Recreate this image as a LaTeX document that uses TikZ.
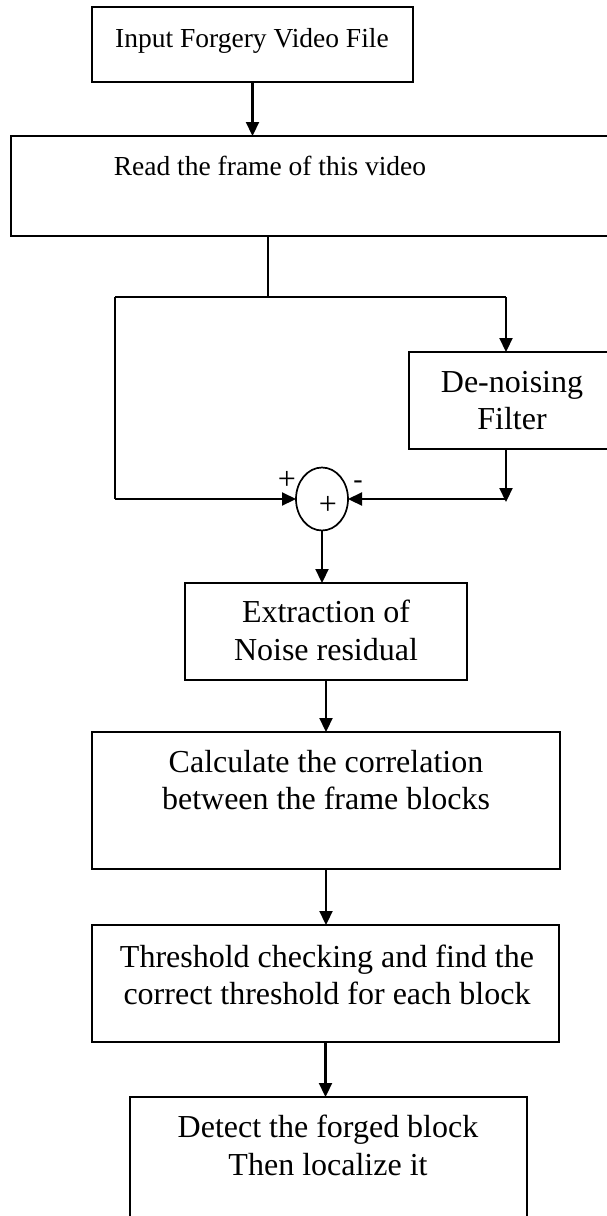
\documentclass[tikz,border=0pt]{standalone}
\usepackage{fontspec}
\setmainfont{Liberation Serif}
\usetikzlibrary{arrows.meta,fit,shapes.geometric}
\begin{document}
\begin{tikzpicture}[x=0.5pt,y=-0.5pt,
  box/.style={draw, line width=0.75pt, inner sep=0pt, outer sep=0pt},
  big/.style={font=\fontsize{16}{18.5}\selectfont, inner sep=0pt, anchor=base},
  small/.style={font=\fontsize{13.75}{16}\selectfont, inner sep=0pt, anchor=base},
  flow/.style={line width=1.1pt, -{Triangle[length=7pt,width=6.5pt]}},
  thinline/.style={line width=0.55pt},
  sumnode/.style={draw, ellipse, line width=0.85pt, minimum width=26pt,
                  minimum height=31.5pt, inner sep=0pt, outer sep=0pt}]
\useasboundingbox (0,0) rectangle (606,1216);

% blocks
\node[box, fit={(92,7) (413,82)}] (input) {};
\node[box, fit={(11,136) (612,236)}] (read) {};
\node[box, fit={(409,352) (612,449)}] (filter) {};
\node[sumnode] (sum) at (322,499) {};
\node[box, fit={(185,583) (467,680)}] (resid) {};
\node[box, fit={(92,732) (560,869)}] (corr) {};
\node[box, fit={(92,925) (559,1042)}] (thresh) {};
\node[box, fit={(130,1097) (527,1224)}] (detect) {};

% block texts
\node[small] (inputT) at (252,47) {Input Forgery Video File};
\node[small] (readT) at (270,175) {Read the frame of this video};
\node[big] (filterT1) at (512,392) {De-noising};
\node[big] (filterT2) at (512,429) {Filter};
\node[big] (residT1) at (326,622) {Extraction of};
\node[big] (residT2) at (326,660) {Noise residual};
\node[big] (corrT1) at (326,772) {Calculate the correlation};
\node[big] (corrT2) at (326,809) {between the frame blocks};
\node[big] (threshT1) at (327,967) {Threshold checking and find the};
\node[big] (threshT2) at (327,1004) {correct threshold for each block};
\node[big] (detectT1) at (328,1137) {Detect the forged block};
\node[big] (detectT2) at (328,1175) {Then localize it};

% signs at the summing junction
\node[big] (plusA) at (287,489) {+};
\node[font=\fontsize{14}{16}\selectfont, inner sep=0pt, anchor=base] (minusB) at (358,488) {-};
\node[big] (plusC) at (328,514) {+};

% branching points
\coordinate (split) at (268,297);
\coordinate (lc) at (115,297);
\coordinate (rc) at (506,297);

% connectors
\draw[flow] (input.south) -- (input.south |- read.north);
\draw[thinline] (read.south -| split) -- (split);
\draw[thinline] (lc) -- (rc);
\draw[thinline] (lc) -- (lc |- sum.west);
\draw[flow] (lc |- sum.west) -- (sum.west);
\draw[flow] (rc) -- (rc |- filter.north);
\draw[flow] (rc |- filter.south) -- ([yshift=-1.5pt]rc |- sum.east);
\draw[flow] (rc |- sum.east) -- (sum.east);
\draw[flow] (sum.south) -- (sum.south |- resid.north);
\draw[flow] (resid.south) -- (resid.south |- corr.north);
\draw[flow] (corr.south) -- (corr.south |- thresh.north);
\draw[flow] (thresh.south) -- (thresh.south |- detect.north);
\end{tikzpicture}
\end{document}
